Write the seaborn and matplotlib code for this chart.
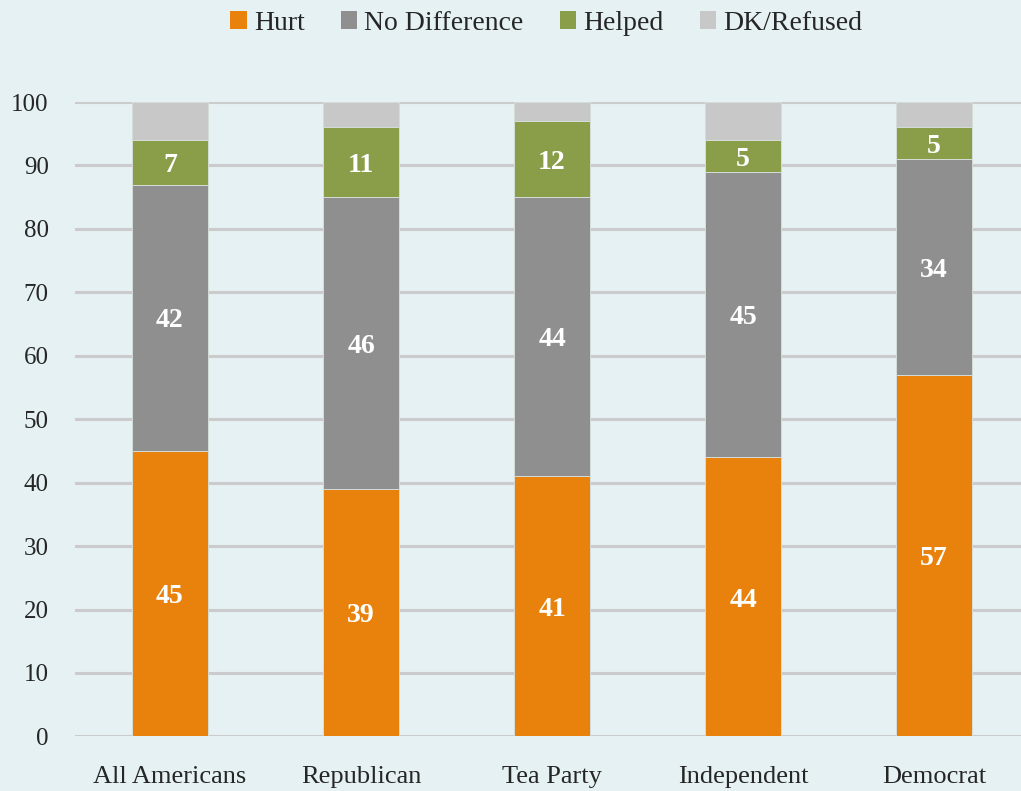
import numpy as np
import pandas as pd
import seaborn as sns
import matplotlib.pyplot as plt
from matplotlib.patches import Patch

# data
groups = ['All Americans', 'Republican', 'Tea Party', 'Independent', 'Democrat']
hurt = [45, 39, 41, 44, 57]
no_difference = [42, 46, 44, 45, 34]
helped = [7, 11, 12, 5, 5]
dk_refused = [6, 4, 3, 6, 4]

series_names = ['Hurt', 'No Difference', 'Helped', 'DK/Refused']
series_colors = ['#E8820C', '#8F8F8F', '#8A9E4A', '#C8C8C8']
label_series = [True, True, True, False]

bg = '#E6F1F3'
sns.set_style('white')
plt.rcParams['font.family'] = ['Liberation Serif', 'DejaVu Serif']

fig = plt.figure(figsize=(10.21, 7.91), dpi=100, facecolor=bg)
ax = fig.add_axes([0.0735, 0.069, 0.9265, 0.802])
ax.set_facecolor(bg)

bottom = np.zeros(len(groups))
for name, vals, col, lab in zip(series_names, [hurt, no_difference, helped, dk_refused],
                                series_colors, label_series):
    vals = np.array(vals, dtype=float)
    sns.barplot(x=groups, y=vals, bottom=bottom, color=col, width=0.4, saturation=1,
                edgecolor='#D5DDD8', linewidth=0.7, ax=ax, zorder=3)
    if lab:
        for i, v in enumerate(vals):
            ax.text(i, bottom[i] + v / 2 - 0.5, f'{int(v)}', ha='center', va='center',
                    color='white', fontsize=20, fontweight='bold', zorder=5)
    bottom = bottom + vals

ax.set_ylim(0, 100)
ax.set_xlim(-0.497, 4.455)
ax.set_yticks(range(0, 101, 10))
ax.yaxis.grid(True, color='#CBCBCB', linewidth=2.2, zorder=0)
ax.xaxis.grid(False)
for s in ax.spines.values():
    s.set_visible(False)
ax.tick_params(axis='y', labelsize=18, length=0, pad=19)
ax.tick_params(axis='x', labelsize=19, length=0, pad=21)
ax.set_xlabel('')
ax.set_ylabel('')

handles = [Patch(facecolor=c, edgecolor='none') for c in series_colors]
fig.legend(handles, series_names, loc='upper center', bbox_to_anchor=(0.535, 1.018),
           ncol=4, frameon=False, fontsize=20, handlelength=0.6, handleheight=0.6,
           handletextpad=0.25, columnspacing=1.3)

fig.savefig('out.png', dpi=100, facecolor=bg)
